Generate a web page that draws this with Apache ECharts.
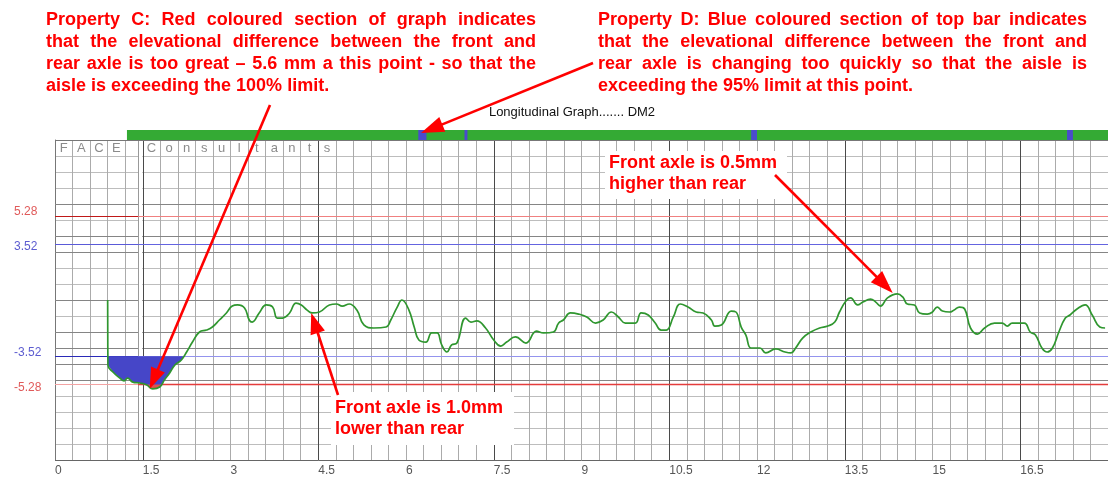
<!DOCTYPE html>
<html>
<head>
<meta charset="utf-8">
<script src="https://cdn.jsdelivr.net/npm/echarts@6/dist/echarts.min.js"></script>
<style>html,body{margin:0;padding:0;background:#fff}#c{width:1108px;height:478px}</style>
</head>
<body>
<div id="c"></div>
<script>
// ---------------- data ----------------
const distance = [
  0.90,0.905,0.99,1.11,1.18,1.24,1.33,1.45,1.57,1.67,
  1.79,1.87,1.96,2.05,2.16,2.25,2.35,2.47,2.59,2.69,
  2.81,2.93,3.03,3.12,3.24,3.32,3.37,3.49,3.61,3.72,
  3.80,3.89,4.01,4.12,4.21,4.31,4.40,4.52,4.69,4.81,
  4.91,5.03,5.16,5.28,5.45,5.66,5.74,5.85,5.93,6.05,
  6.14,6.22,6.34,6.44,6.53,6.61,6.70,6.78,6.87,7.02,
  7.11,7.21,7.36,7.50,7.62,7.72,7.87,8.05,8.23,8.35,
  8.52,8.61,8.69,8.81,8.95,9.09,9.24,9.37,9.51,9.63,
  9.75,9.92,10.02,10.14,10.26,10.36,10.45,10.57,10.69,10.82,
  10.96,11.08,11.22,11.28,11.39,11.56,11.64,11.73,11.81,11.90,
  12.05,12.15,12.32,12.48,12.58,12.66,12.78,12.92,13.07,13.21,
  13.33,13.41,13.52,13.60,13.72,13.81,13.94,14.03,14.11,14.23,
  14.40,14.49,14.57,14.69,14.78,14.91,15.00,15.08,15.17,15.29,
  15.37,15.46,15.55,15.65,15.77,15.89,16.06,16.19,16.28,16.36,
  16.57,16.67,16.76,16.87,16.96,17.05,17.16,17.27,17.35,17.47,
  17.61,17.73,17.86,17.95
];
const difference = [
  0.00,-4.06,-4.50,-4.88,-5.06,-4.88,-5.13,-5.19,-5.31,-5.56,
  -5.44,-5.00,-4.56,-4.06,-3.75,-3.25,-2.63,-2.00,-1.88,-1.69,
  -1.25,-0.81,-0.38,-0.31,-0.50,-1.25,-1.38,-0.81,-0.31,-0.44,
  -1.13,-1.13,-0.81,-0.19,-0.31,-0.63,-0.81,-0.75,-0.31,-0.25,
  -0.38,-0.25,-0.63,-1.56,-1.75,-1.69,-1.25,-0.44,0.00,-0.63,
  -1.69,-2.50,-2.63,-2.06,-2.06,-2.81,-3.25,-2.81,-2.69,-1.13,
  -1.38,-1.31,-1.75,-2.50,-2.88,-2.63,-2.31,-2.69,-1.94,-2.06,
  -2.00,-1.44,-1.25,-0.81,-0.88,-1.06,-1.44,-1.25,-0.75,-1.06,
  -1.44,-1.44,-0.81,-0.94,-1.44,-1.88,-1.88,-1.06,-0.25,-0.44,
  -0.75,-0.81,-1.25,-1.63,-1.56,-0.69,-0.75,-1.69,-2.19,-3.00,
  -3.00,-3.31,-3.06,-3.25,-3.31,-3.00,-2.38,-2.00,-1.75,-1.63,
  -1.38,-0.75,-0.06,0.13,-0.31,-0.13,0.06,-0.13,-0.38,0.13,
  0.38,0.19,-0.25,-0.31,-0.81,-0.88,-0.75,-0.44,-0.69,-0.75,
  -0.63,-0.44,-0.56,-1.75,-2.13,-1.75,-1.44,-1.44,-1.63,-1.44,
  -1.44,-2.00,-2.19,-3.00,-3.25,-3.00,-2.00,-1.13,-0.94,-0.56,
  -0.31,-0.94,-1.69,-1.75
];
const limitLevels = [5.28, 3.52, -3.52, -5.28];     // 100% / 95% limits
const limit100 = 5.28, limit95 = 3.52;
const faceLetters = ['F','A','C','E'];
const consultantLetters = ['C','o','n','s','u','l','t','a','n','t','s'];
const topBarStart = [1.23];                         // green status bar
const topBarEnd = [18];
const rateStart = [6.21, 7.00, 11.90, 17.30];       // blue (95% rate) sections
const rateEnd   = [6.35, 7.05, 12.00, 17.40];
const xTickStep = 1.5;
const majorGridX = [1.5, 4.5, 7.5, 10.5, 13.5, 16.5];
const darkGridY = [6, 4, 3, 0, -2, -3, -4, -5];
const titleText = 'Longitudinal Graph....... DM2';
const noteC = ['Property C: Red coloured section of graph indicates',
  'that the elevational difference between the front and',
  'rear axle is too great \u2013 5.6 mm a this point - so that the',
  'aisle is exceeding the 100% limit.'];
const noteD = ['Property D: Blue coloured section of top bar indicates',
  'that the elevational difference between the front and',
  'rear axle is changing too quickly so that the aisle is',
  'exceeding the 95% limit at this point.'];
const noteLow = ['Front axle is 1.0mm', 'lower than rear'];
const noteHigh = ['Front axle is 0.5mm', 'higher than rear'];

// ---------------- chart ----------------
const FAM = '"Liberation Sans", Arial, sans-serif';
const chart = echarts.init(document.getElementById('c'), null, {renderer: 'canvas', width: 1108, height: 478});
const lineData = distance.map((d, i) => [d, difference[i]]);

function fillSeries(threshold, color, z) {
  return {
    type: 'custom', xAxisIndex: 0, yAxisIndex: 0, data: [0], silent: true, z: z,
    renderItem: function (params, api) {
      const pts = [];
      for (let i = 0; i < distance.length; i++) {
        const x = distance[i], y = difference[i];
        if (i > 0) {
          const px = distance[i - 1], py = difference[i - 1];
          if ((py - threshold) * (y - threshold) < 0) {
            const t = (threshold - py) / (y - py);
            pts.push(api.coord([px + t * (x - px), threshold]));
          }
        }
        pts.push(api.coord([x, Math.min(y, threshold)]));
      }
      return {type: 'polygon', shape: {points: pts}, style: {fill: color}};
    }
  };
}

const headerData = faceLetters.map((c, i) => ({name: c, value: [0.15 + 0.3 * i, 9.5]}))
  .concat(consultantLetters.map((c, i) => ({name: c, value: [1.65 + 0.3 * i, 9.5]})));

const limitLeftColors = ['#c01818', '#5a5ad8', '#2a2ab8', '#f3a3a3'];
const limitRightColors = ['#f08080', '#6464e0', '#9494ee', '#e43c3c'];
const faceEdge = 1.42;

const yRich = {
  a: {color: '#e05a5a', fontSize: 12, fontFamily: FAM, padding: [0, 0, 7, 0]},
  b: {color: '#5c5cd0', fontSize: 12, fontFamily: FAM, padding: [6, 0, 0, 0]},
  c: {color: '#5c5cd0', fontSize: 12, fontFamily: FAM, padding: [0, 0, 8, 0]},
  d: {color: '#e05a5a', fontSize: 12, fontFamily: FAM, padding: [7, 0, 0, 0]}
};

const GRID_C = '#ababab';
const option = {
  backgroundColor: '#fff',
  animation: false,
  grid: [
    {left: 55, top: 140, width: 1056, height: 320, show: false},
    {left: 55, top: 130, width: 1056, height: 10, show: false}
  ],
  xAxis: [
    {gridIndex: 0, type: 'value', min: 0, max: 18, interval: xTickStep,
      axisLine: {show: false}, axisTick: {show: false}, splitLine: {show: false},
      axisLabel: {show: true, align: 'left', margin: 5, color: '#555', fontSize: 12, fontFamily: FAM, showMaxLabel: false,
        formatter: v => String(+v.toFixed(1))}},
    {gridIndex: 0, type: 'value', min: 0, max: 18, interval: 0.3,
      axisLine: {show: false}, axisTick: {show: false}, axisLabel: {show: false},
      splitLine: {show: true, lineStyle: {color: GRID_C, width: 1}}},
    {gridIndex: 1, type: 'value', min: 0, max: 18, show: false}
  ],
  yAxis: [
    {gridIndex: 0, type: 'value', min: -10, max: 10, interval: 1,
      axisLine: {show: true, lineStyle: {color: '#777'}}, axisTick: {show: false},
      splitLine: {show: true, lineStyle: {color: '#bdbdbd', width: 1}},
      axisLabel: {show: true, customValues: limitLevels, align: 'left', margin: 41, rich: yRich,
        formatter: function (v) {
          const i = limitLevels.indexOf(+(+v).toFixed(2));
          const k = ['a', 'b', 'c', 'd'][i < 0 ? 0 : i];
          return '{' + k + '|' + (+v).toFixed(2) + '}';
        }}},
    {gridIndex: 1, type: 'value', min: 0, max: 1, show: false}
  ],
  series: [
    // darker horizontal grid lines
    {type: 'custom', xAxisIndex: 0, yAxisIndex: 0, silent: true, z: 1, data: darkGridY.map(v => [v]),
      renderItem: function (params, api) {
        const a = api.coord([0, api.value(0)]), b = api.coord([18, api.value(0)]);
        const y = Math.round(a[1]) + 0.5;
        return {type: 'line', shape: {x1: a[0], y1: y, x2: b[0], y2: y}, style: {stroke: '#858585', lineWidth: 1}};
      }},
    // major vertical grid lines
    {type: 'custom', xAxisIndex: 0, yAxisIndex: 0, silent: true, z: 2, data: majorGridX.map(v => [v]),
      renderItem: function (params, api) {
        const a = api.coord([api.value(0), 10]), b = api.coord([api.value(0), -10]);
        const x = Math.round(a[0]) + 0.5;
        return {type: 'line', shape: {x1: x, y1: a[1], x2: x, y2: b[1]}, style: {stroke: '#4a4a4a', lineWidth: 1}};
      }},
    // frame top / bottom
    {type: 'custom', xAxisIndex: 0, yAxisIndex: 0, silent: true, z: 2, data: [[10], [-10]],
      renderItem: function (params, api) {
        const a = api.coord([0, api.value(0)]), b = api.coord([18, api.value(0)]);
        const y = Math.round(a[1]) + 0.5;
        return {type: 'line', shape: {x1: a[0], y1: y, x2: b[0], y2: y}, style: {stroke: params.dataIndex === 0 ? '#777' : '#666', lineWidth: 1}};
      }},
    // limit lines
    {type: 'custom', xAxisIndex: 0, yAxisIndex: 0, silent: true, z: 2, data: limitLevels.map(v => [v]),
      renderItem: function (params, api) {
        const i = params.dataIndex, lv = api.value(0);
        const a = api.coord([0, lv]), m = api.coord([faceEdge, lv]), b = api.coord([18, lv]);
        const y = Math.round(a[1]) + 0.5;
        return {type: 'group', children: [
          {type: 'line', shape: {x1: a[0], y1: y, x2: m[0], y2: y}, style: {stroke: limitLeftColors[i], lineWidth: 1.2}},
          {type: 'line', shape: {x1: m[0], y1: y, x2: b[0], y2: y}, style: {stroke: limitRightColors[i], lineWidth: i === 3 ? 1.6 : 1.2}}
        ]};
      }},
    fillSeries(-limit95, '#4646c8', 3),
    fillSeries(-limit100, '#e05050', 4),
    {type: 'line', name: 'difference', xAxisIndex: 0, yAxisIndex: 0, data: lineData, z: 5,
      symbol: 'none', smooth: 0.45, lineStyle: {color: '#2f962f', width: 1.7}, silent: true},
    {type: 'scatter', xAxisIndex: 0, yAxisIndex: 0, data: headerData, symbolSize: 1, z: 5, silent: true,
      itemStyle: {color: 'rgba(0,0,0,0)'},
      label: {show: true, position: 'inside', formatter: '{b}', color: '#6e6e6e', fontSize: 13, fontFamily: FAM}},
    {type: 'custom', xAxisIndex: 2, yAxisIndex: 1, silent: true, z: 5,
      data: topBarStart.map((s, i) => [s, topBarEnd[i], 0]).concat(rateStart.map((s, i) => [s, rateEnd[i], 1])),
      renderItem: function (params, api) {
        const p0 = api.coord([api.value(0), 1]);
        const p1 = api.coord([api.value(1), 0]);
        return {type: 'rect', shape: {x: p0[0], y: p0[1], width: p1[0] - p0[0], height: p1[1] - p0[1]},
          style: {fill: api.value(2) === 1 ? '#4b4bcc' : '#34aa34'}};
      }}
  ]
};
chart.setOption(option);

// ---------------- annotations ----------------
const NOTE_FONT = 'bold 18px ' + FAM;
const measureCtx = document.createElement('canvas').getContext('2d');
measureCtx.font = NOTE_FONT;
function justified(lines, left, right, y0, pitch) {
  const els = [];
  lines.forEach((line, li) => {
    const words = line.split(' ');
    const widths = words.map(w => measureCtx.measureText(w).width);
    const total = widths.reduce((a, b) => a + b, 0);
    const last = li === lines.length - 1;
    const gap = (!last && words.length > 1) ? (right - left - total) / (words.length - 1) : measureCtx.measureText(' ').width;
    let x = left;
    words.forEach((w, i) => {
      els.push({type: 'text', x: x, y: y0 + li * pitch, z: 20,
        style: {text: w, font: NOTE_FONT, fill: '#ff0000', align: 'left', verticalAlign: 'middle'}});
      x += widths[i] + gap;
    });
  });
  return els;
}
function boxedNote(lines, x, y0, pitch, box) {
  const els = [{type: 'rect', z: 18, shape: {x: box[0], y: box[1], width: box[2] - box[0], height: box[3] - box[1]}, style: {fill: '#fff'}}];
  lines.forEach((t, i) => els.push({type: 'text', x: x, y: y0 + i * pitch, z: 20,
    style: {text: t, font: NOTE_FONT, fill: '#ff0000', align: 'left', verticalAlign: 'middle'}}));
  return els;
}
function arrow(s, t, headLen, headHalf) {
  const dx = t[0] - s[0], dy = t[1] - s[1];
  const L = Math.sqrt(dx * dx + dy * dy), ux = dx / L, uy = dy / L;
  const bx = t[0] - ux * headLen, by = t[1] - uy * headLen;
  return [
    {type: 'line', z: 21, shape: {x1: s[0], y1: s[1], x2: bx + ux * 2, y2: by + uy * 2}, style: {stroke: '#ff0000', lineWidth: 2.6}},
    {type: 'polygon', z: 21, shape: {points: [t, [bx - uy * headHalf, by + ux * headHalf], [bx + uy * headHalf, by - ux * headHalf]]},
      style: {fill: '#ff0000'}}
  ];
}
const px = v => chart.convertToPixel({gridIndex: 0}, v);
const gapL = px([faceEdge, 0])[0], gapR = px([1.5, 0])[0];
const graphics = [
  {type: 'rect', z: 1, shape: {x: gapL + 0.5, y: 141, width: gapR - gapL - 1, height: 318}, style: {fill: '#fff'}},
  {type: 'line', z: 1, shape: {x1: Math.round(gapL) + 0.5, y1: 140, x2: Math.round(gapL) + 0.5, y2: 460}, style: {stroke: '#999', lineWidth: 1}},
  {type: 'text', x: 572, y: 112, z: 20, style: {text: titleText, font: '13px ' + FAM, fill: '#111', align: 'center', verticalAlign: 'middle'}}
]
  .concat(justified(noteC, 46, 536, 20.3, 21.8))
  .concat(justified(noteD, 598, 1087, 20.3, 21.8))
  .concat(boxedNote(noteLow, 335, 408.5, 21, [331, 392, 514, 445]))
  .concat(boxedNote(noteHigh, 609, 163, 21, [605, 151, 787, 199]))
  .concat(arrow([270, 105], px([1.62, -5.55]), 21, 7.5))
  .concat(arrow([593, 63], [421, 133], 23, 8))
  .concat(arrow([338, 395], px([4.38, -0.81]), 21, 7.5))
  .concat(arrow([775, 175], px([14.32, 0.44]), 23, 8));
chart.setOption({graphic: {elements: graphics}});
</script>
</body>
</html>
